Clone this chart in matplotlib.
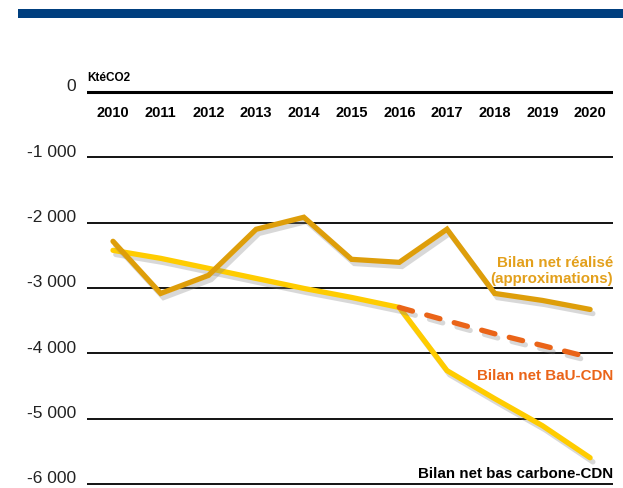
import matplotlib
matplotlib.use("Agg")
import matplotlib.pyplot as plt
import matplotlib.patheffects as pe
from matplotlib.patches import Rectangle

plt.rcParams["font.family"] = ["Liberation Sans", "DejaVu Sans"]

years = list(range(2010, 2021))
realise = [-2285, -3083, -2807, -2101, -1917, -2561, -2607, -2100, -3083, -3190, -3328]
bas_carbone = [-2423, -2546, -2699, -2853, -3006, -3144, -3297, -4264, -4693, -5107, -5598]
bau_years = [2016, 2017, 2018, 2019, 2020]
bau = [-3297, -3500, -3700, -3880, -4064]
y_ticks = [0, -1000, -2000, -3000, -4000, -5000, -6000]
y_tick_labels = ["0", "-1 000", "-2 000", "-3 000", "-4 000", "-5 000", "-6 000"]

c_realise = "#DE9E0A"
c_realise_txt = "#E3A01C"
c_bas = "#FFCC00"
c_bau = "#EA6418"

fig = plt.figure(figsize=(6.23, 4.88), dpi=100)
fig.add_artist(Rectangle((18 / 623, 1 - 18 / 488), 1, 9 / 488,
                         transform=fig.transFigure, color="#003F7F", lw=0))

# axes spanning px 87..613 horizontally, 70..488 vertically
ax = fig.add_axes([87 / 623, 0, 526 / 623, 418 / 488])
ax.set_xlim(2009.455, 2020.48)
ax.set_ylim(-6061, 337)
ax.axis("off")

for v, lab in zip(y_ticks, y_tick_labels):
    ax.axhline(v, color="black", lw=2.2 if v == 0 else 1.3, zorder=1)
    ax.text(-0.02, v + 80, lab, transform=ax.get_yaxis_transform(),
            ha="right", va="center", fontsize=12.5, color="#222222")

for yr in years:
    ax.text(yr, -320, str(yr), ha="center", va="center",
            fontsize=10.5, fontweight="bold")

ax.text(2009.47, 210, "KtéCO2", ha="left", va="center",
        fontsize=8.5, fontweight="bold")

shadow = [pe.SimpleLineShadow(offset=(2, -3), shadow_color="gray", alpha=0.3),
          pe.Normal()]

ax.plot(years, bas_carbone, color=c_bas, lw=3.8, solid_capstyle="round",
        solid_joinstyle="miter", path_effects=shadow, zorder=2)
ax.plot(bau_years, bau, color=c_bau, lw=3.8, linestyle=(0, (2.6, 2.8)),
        dash_capstyle="round", path_effects=shadow, zorder=3)
ax.plot(years, realise, color=c_realise, lw=3.8, solid_capstyle="round",
        solid_joinstyle="miter", path_effects=shadow, zorder=4)

ax.text(2020.48, -2740, "Bilan net réalisé\n(approximations)", ha="right",
        va="center", fontsize=10.9, fontweight="bold", color=c_realise_txt,
        linespacing=1.1)
ax.text(2020.48, -4347, "Bilan net BaU-CDN", ha="right", va="center",
        fontsize=10.9, fontweight="bold", color=c_bau)
ax.text(2020.48, -5847, "Bilan net bas carbone-CDN", ha="right", va="center",
        fontsize=10.9, fontweight="bold", color="black")

fig.savefig("out.png", dpi=100)
